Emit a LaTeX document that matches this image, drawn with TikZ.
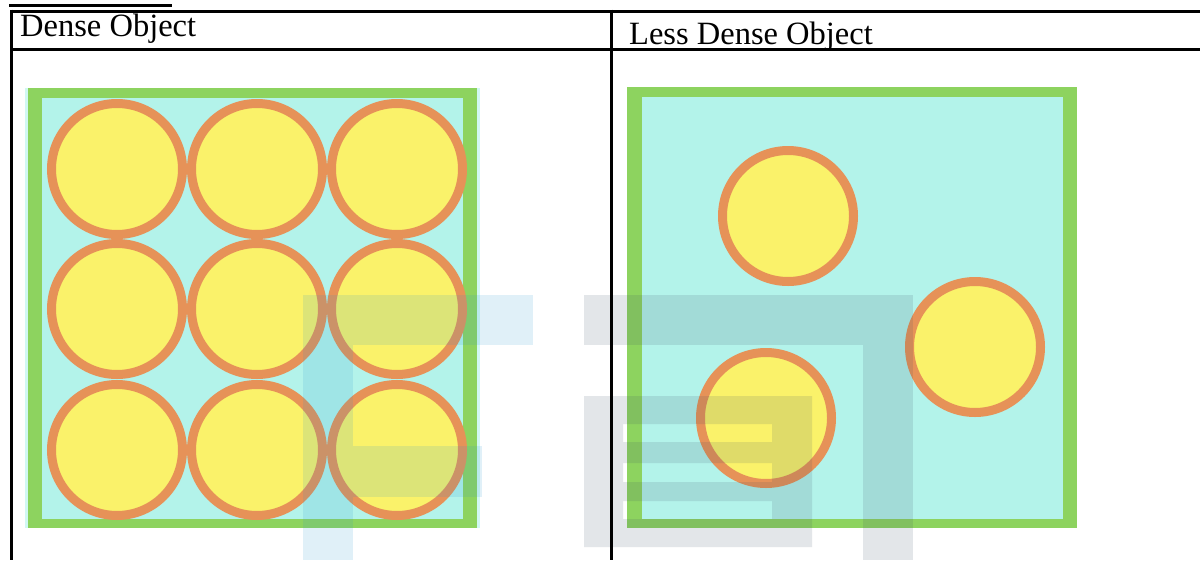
\documentclass[tikz,border=0pt]{standalone}
\usepackage{fontspec}
\setmainfont{Liberation Serif}
\begin{document}
\begin{tikzpicture}[x=1pt,y=-1pt,
  framegreen/.style={fill=fgreen},
  framecyan/.style={fill=fcyan},
  ball/.style={circle,draw=forange,fill=fyellow,line width=9pt,inner sep=0pt,minimum size=131pt},
  wmblue/.style={fill=wblue,fill opacity=0.14},
  wmgray/.style={fill=wgray,fill opacity=0.14,even odd rule},
  tline/.style={line width=3pt,black},
  head/.style={font=\fontsize{32.5}{38}\selectfont,inner sep=0pt,anchor=base west}]
\definecolor{fgreen}{RGB}{141,211,95}
\definecolor{fcyan}{RGB}{179,243,234}
\definecolor{fyellow}{RGB}{250,242,106}
\definecolor{forange}{RGB}{230,146,88}
\definecolor{wblue}{RGB}{42,149,206}
\definecolor{wgray}{RGB}{60,80,100}
\useasboundingbox (0,0) rectangle (1200,560);
\fill[white] (0,0) rectangle (1200,560);
% left frame
\fill[fcyan!60] (25,88) rectangle (480,528);
\fill[framegreen] (28,88) rectangle (477,528);
\fill[framecyan] (42,98) rectangle (463,519);
% right frame
\fill[framegreen] (627,87) rectangle (1077,528);
\fill[framecyan] (642,97) rectangle (1063,519);
% dense circles
\foreach \r/\y in {1/169,2/309,3/450}{
  \foreach \c/\x in {1/117,2/257,3/397}{
    \node[ball] (d\r\c) at (\x,\y) {};
  }
}
% less dense circles
\node[ball] (l1) at (788,216) {};
\node[ball] (l2) at (975,347) {};
\node[ball] (l3) at (766,418) {};
% watermark
\fill[wmblue] (303,295) rectangle (533,345);
\fill[wmblue] (303,345) rectangle (353,560);
\fill[wmblue] (353,446) rectangle (482,497);
\fill[wmgray] (584,295) rectangle (913,345);
\fill[wmgray] (863,345) rectangle (913,560);
\fill[wmgray] (584,396) rectangle (812,547)
  (623,424) rectangle (772,442)
  (623,463) rectangle (772,482)
  (623,501) rectangle (772,519);
% table
\draw[tline] (9,5.5) -- (172,5.5);
\draw[tline] (10,11) -- (1200,11);
\draw[tline] (10,49) -- (1200,49);
\draw[tline] (11,9.5) -- (11,560);
\draw[tline] (611,9.5) -- (611,560);
\node[head] (h1) at (20,36) {Dense Object};
\node[head] (h2) at (629,44) {Less Dense Object};
\end{tikzpicture}
\end{document}
